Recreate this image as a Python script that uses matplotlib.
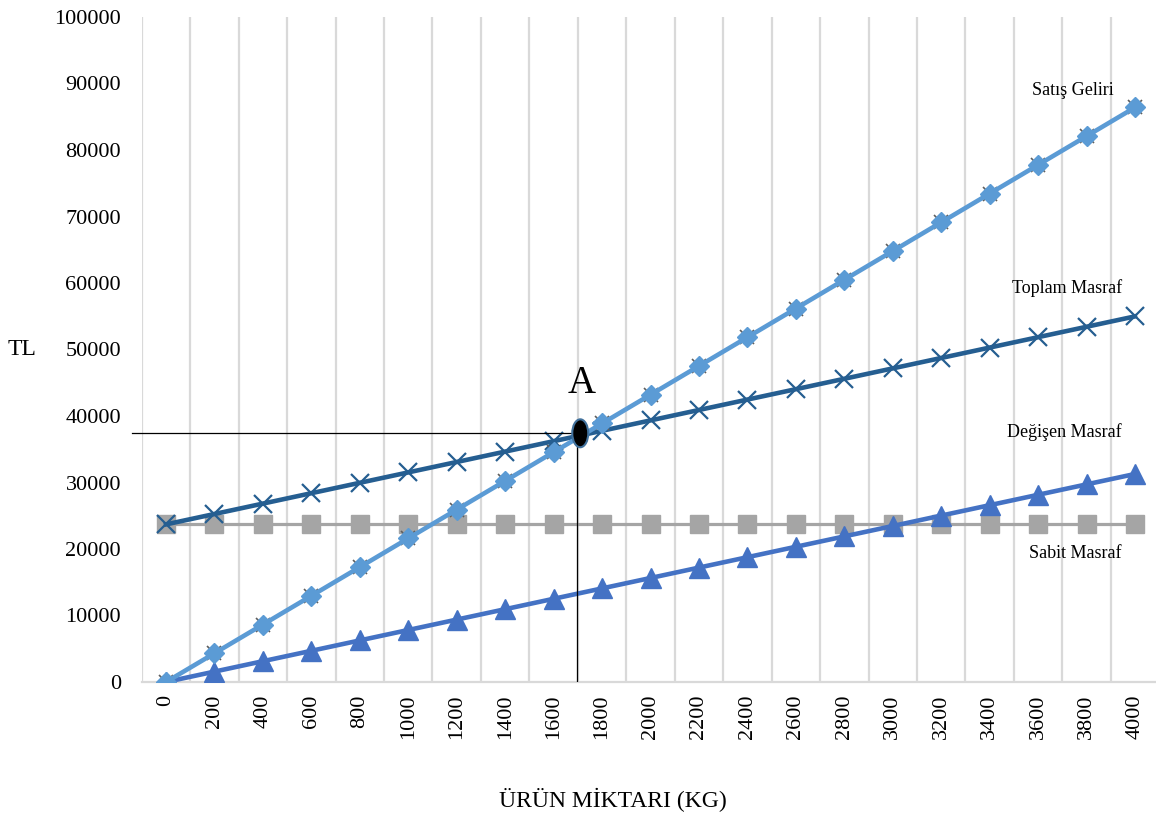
import matplotlib
matplotlib.use("Agg")
import matplotlib.pyplot as plt
from matplotlib.patches import Ellipse

plt.rcParams['font.family'] = ['Liberation Serif', 'DejaVu Serif']

miktar = [0, 200, 400, 600, 800, 1000, 1200, 1400, 1600, 1800, 2000,
          2200, 2400, 2600, 2800, 3000, 3200, 3400, 3600, 3800, 4000]
sabit_masraf = [23700] * 21
degisen_masraf = [0, 1564, 3128, 4692, 6256, 7820, 9384, 10948, 12512, 14076, 15640,
                  17204, 18768, 20332, 21896, 23460, 25024, 26588, 28152, 29716, 31280]
toplam_masraf = [23700, 25264, 26828, 28392, 29956, 31520, 33084, 34648, 36212, 37776, 39340,
                 40904, 42468, 44032, 45596, 47160, 48724, 50288, 51852, 53416, 54980]
satis_geliri = [0, 4320, 8640, 12960, 17280, 21600, 25920, 30240, 34560, 38880, 43200,
                47520, 51840, 56160, 60480, 64800, 69120, 73440, 77760, 82080, 86400]
basabas_miktar = 1710
basabas_tl = 37400
y_ticks = list(range(0, 100001, 10000))

W, H = 1156, 815
fig = plt.figure(figsize=(W / 100, H / 100), dpi=100)
ax = fig.add_axes([141.8 / W, (H - 682) / H, (1159.2 - 141.8) / W, (682 - 17) / H])

x = list(range(len(miktar)))
bx = basabas_miktar / 200.0

ax.set_xlim(-0.5, len(miktar) - 0.5)
ax.set_ylim(0, 100000)

for b in range(len(miktar) + 1):
    ax.axvline(b - 0.5, color='#d9d9d9', lw=1.6, zorder=0)

for s in ['top', 'right', 'left']:
    ax.spines[s].set_visible(False)
ax.spines['bottom'].set_color('#d9d9d9')
ax.spines['bottom'].set_linewidth(1.6)

ax.set_xticks(x)
ax.set_xticklabels([str(m) for m in miktar], rotation=90, fontsize=16)
ax.set_yticks(y_ticks)
ax.set_yticklabels([str(v) for v in y_ticks], fontsize=16)
ax.tick_params(axis='x', length=0, pad=9)
ax.tick_params(axis='y', length=0, pad=15)

ax.plot(x, sabit_masraf, color='#a5a5a5', lw=2.3, marker='s', ms=13, zorder=3)
ax.plot(x, degisen_masraf, color='#4472c4', lw=3.3, marker='^', ms=14, zorder=4)
ax.plot(x, toplam_masraf, color='#255e91', lw=3.3, marker='x', ms=13, mew=1.6, zorder=5)
ax.plot(x, satis_geliri, color='#5f5f5f', lw=0, marker='x', ms=10, mew=1.2, zorder=5.5)
ax.plot(x, satis_geliri, color='#5b9bd5', lw=3.3, marker='D', ms=10, zorder=6)

# break-even guide lines
ax.plot([-0.7, bx], [basabas_tl, basabas_tl], color='black', lw=0.9, zorder=7, clip_on=False)
ax.plot([bx - 0.06, bx - 0.06], [0, basabas_tl], color='black', lw=0.9, zorder=7)
ax.add_patch(Ellipse((bx, basabas_tl), 0.33, 4200, facecolor='black',
                     edgecolor='#41719c', lw=1.5, zorder=8))
ax.text(bx + 0.02, basabas_tl + 7450, 'A', ha='center', va='center', fontsize=28, zorder=9)

# series labels
ax.text(18.71, 89000, 'Satış Geliri', ha='center', va='center', fontsize=13)
ax.text(18.60, 59250, 'Toplam Masraf', ha='center', va='center', fontsize=13)
ax.text(18.54, 37590, 'Değişen Masraf', ha='center', va='center', fontsize=13)
ax.text(18.77, 19250, 'Sabit Masraf', ha='center', va='center', fontsize=13)

fig.text(22 / W, 1 - 350 / H, 'TL', ha='center', va='center', fontsize=17)
fig.text(613 / W, 1 - 800 / H, 'ÜRÜN MİKTARI (KG)', ha='center', va='center', fontsize=17)

fig.savefig('out.png', dpi=100)
